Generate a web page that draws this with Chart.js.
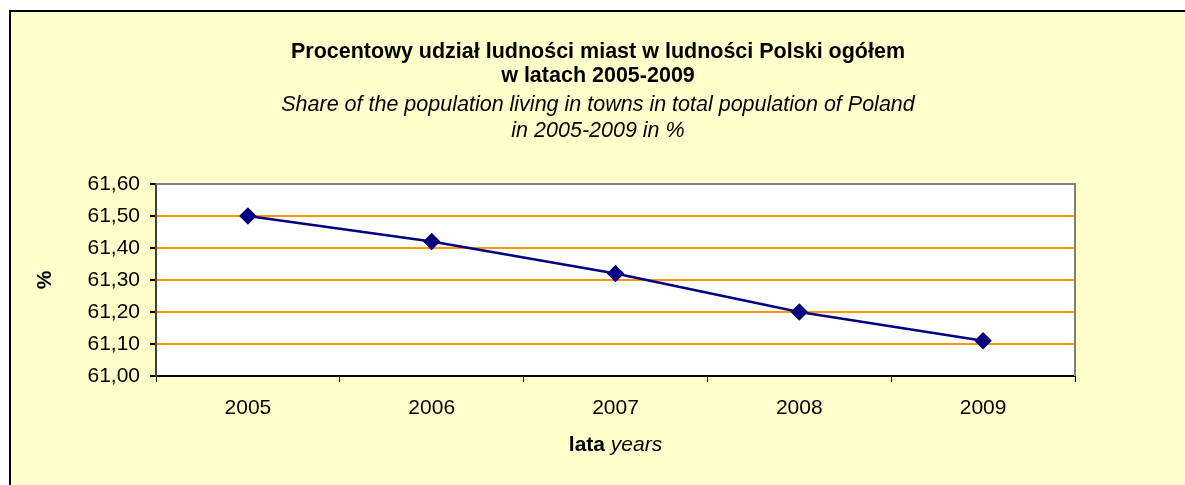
<!DOCTYPE html>
<html>
<head>
<meta charset="utf-8">
<script src="https://cdn.jsdelivr.net/npm/chart.js@4.4.1/dist/chart.umd.min.js"></script>
<style>
  body { margin: 0; background: #fff; }
  #wrap {
    position: absolute; left: 9px; top: 10px;
    width: 1176px; height: 475px;
    border-left: 2px solid #000; border-top: 2px solid #000;
    background: #FFFFCC;
  }
  canvas { display: block; }
</style>
</head>
<body>
<div id="wrap"><canvas id="wykres" width="1174" height="473"></canvas></div>
<script>
const lata = ['2005', '2006', '2007', '2008', '2009']
const udzialMiast = [61.50, 61.42, 61.32, 61.20, 61.11]
const yMin = 61.0
const yMax = 61.6
const yKrok = 0.1

const czcionka = "'Liberation Sans', Arial, sans-serif"

// white plot area, grey frame on top/right, mixed-style x title
const ramka = {
    id: 'ramka',
    beforeDraw(chart) {
        const { ctx, chartArea: a } = chart
        ctx.save()
        ctx.fillStyle = '#ffffff'
        ctx.fillRect(a.left, a.top, a.width, a.height)
        ctx.restore()
    },
    beforeDatasetsDraw(chart) {
        const { ctx, chartArea: a } = chart
        ctx.save()
        ctx.strokeStyle = '#808080'
        ctx.lineWidth = 2
        ctx.beginPath()
        ctx.moveTo(a.left, a.top)
        ctx.lineTo(a.right, a.top)
        ctx.lineTo(a.right, a.bottom)
        ctx.stroke()
        ctx.restore()
    },
    afterDraw(chart) {
        const { ctx, chartArea: a } = chart
        const t1 = 'lata', t2 = ' years'
        ctx.save()
        ctx.fillStyle = '#000'
        ctx.textBaseline = 'middle'
        ctx.font = 'bold 21px ' + czcionka
        const w1 = ctx.measureText(t1).width
        ctx.font = 'italic 21px ' + czcionka
        const w2 = ctx.measureText(t2).width
        let x = (a.left + a.right) / 2 - (w1 + w2) / 2
        const y = 433
        ctx.font = 'bold 21px ' + czcionka
        ctx.fillText(t1, x, y)
        ctx.font = 'italic 21px ' + czcionka
        ctx.fillText(t2, x + w1, y)
        ctx.restore()
    }
}

new Chart(document.getElementById('wykres'), {
    type: 'line',
    data: {
        labels: lata,
        datasets: [{
            data: udzialMiast,
            borderColor: '#000080',
            backgroundColor: '#000080',
            borderWidth: 2.5,
            pointStyle: 'rectRot',
            pointRadius: 7,
            pointHoverRadius: 7,
            tension: 0
        }]
    },
    options: {
        responsive: false,
        animation: false,
        layout: { padding: 0 },
        plugins: {
            legend: { display: false },
            tooltip: { enabled: false },
            title: {
                display: true,
                text: ['Procentowy udział ludności miast w ludności Polski ogółem', 'w latach 2005-2009'],
                color: '#000',
                font: { family: czcionka, size: 21.5, weight: 'bold', lineHeight: 24 / 21.5 },
                padding: { top: 28, bottom: 4 }
            },
            subtitle: {
                display: true,
                text: ['Share of the population living in towns in total population of Poland', 'in 2005-2009 in %'],
                color: '#000',
                font: { family: czcionka, size: 21.5, style: 'italic', lineHeight: 26 / 21.5 },
                padding: { top: 0, bottom: 40 }
            }
        },
        scales: {
            x: {
                offset: true,
                afterFit(s) { s.height = 109 },
                grid: {
                    offset: true,
                    drawOnChartArea: false,
                    drawTicks: true,
                    tickLength: 6,
                    tickColor: '#000'
                },
                border: { color: '#000', width: 2 },
                ticks: {
                    color: '#000',
                    font: { family: czcionka, size: 21 },
                    padding: 14
                }
            },
            y: {
                min: yMin,
                max: yMax,
                afterFit(s) { s.width = 145 },
                grid: {
                    color: (c) => (c.tick && (Math.abs(c.tick.value - yMin) < 1e-6 || Math.abs(c.tick.value - yMax) < 1e-6)) ? 'rgba(0,0,0,0)' : '#FF9900',
                    lineWidth: 2,
                    tickLength: 6,
                    tickColor: '#000'
                },
                border: { color: '#404040', width: 2 },
                ticks: {
                    stepSize: yKrok,
                    color: '#000',
                    font: { family: czcionka, size: 21 },
                    padding: 10,
                    callback: (v) => v.toFixed(2).replace('.', ',')
                },
                title: {
                    display: true,
                    text: '%',
                    color: '#000',
                    font: { family: czcionka, size: 21, weight: 'bold' },
                    padding: { top: 22, bottom: 0 }
                }
            },
            // empty right-hand strip so the titles stay centred on the whole canvas
            prawy: {
                type: 'linear',
                position: 'right',
                min: yMin,
                max: yMax,
                afterFit(s) { s.width = 110 },
                grid: { display: false },
                border: { display: false },
                ticks: { display: false }
            }
        }
    },
    plugins: [ramka]
})
</script>
</body>
</html>
